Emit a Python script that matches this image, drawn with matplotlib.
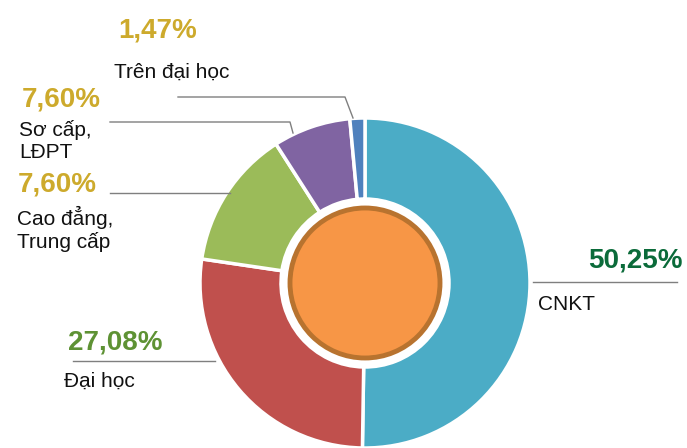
import matplotlib
matplotlib.use('Agg')

import matplotlib.pyplot as plt
from matplotlib.patches import Circle

# du lieu
categories = ['CNKT', 'Đại học', 'Cao đẳng,\nTrung cấp', 'Sơ cấp,\nLĐPT', 'Trên đại học']
values = [50.25, 27.08, 13.6, 7.60, 1.47]
pct_labels = ['50,25%', '27,08%', '7,60%', '7,60%', '1,47%']

colors = ['#4BACC6', '#C0504D', '#9BBB59', '#8064A2', '#4F81BD']
pct_colors = ['#0B6B3A', '#5E9234', '#CDAA2C', '#CDAA2C', '#CDAA2C']

W, H = 687, 448
fig = plt.figure(figsize=(W / 100, H / 100), dpi=100)
ax = fig.add_axes([0, 0, 1, 1])

cx, cy, R = 365, 283, 165
# truc y dao nguoc -> counterclock=True de chay theo chieu kim dong ho tren anh
ax.pie(values, colors=colors, startangle=-90, counterclock=True,
       center=(cx, cy), radius=R, frame=True,
       wedgeprops=dict(width=R - 84, edgecolor='white', linewidth=2.5))
ax.set_xlim(0, W)
ax.set_ylim(H, 0)
ax.set_aspect('equal')
ax.axis('off')

ax.add_patch(Circle((cx, cy), 75, facecolor='#F79646', edgecolor='#B8732F', linewidth=3.5, zorder=5))

# vi tri nhan: (x_pct, y_pct, x_name, y_name, duong dan)
layout = {
    'CNKT':         (588, 261, 538, 305, [(533, 282), (677, 282)]),
    'Đại học':      (68, 343, 64, 381, [(73, 361), (215, 361)]),
    'Cao đẳng,\nTrung cấp': (18, 184, 17, 229, [(110, 193), (230, 193)]),
    'Sơ cấp,\nLĐPT': (22, 99, 19, 141, [(110, 122), (290, 122), (293, 133)]),
    'Trên đại học': (118, 30, 114, 72, [(178, 97), (345, 97), (353, 118)]),
}

for cat, pct, pc in zip(categories, pct_labels, pct_colors):
    xp, yp, xn, yn, pts = layout[cat]
    ax.text(xp, yp, pct, color=pc, fontsize=20, fontweight='bold',
            family='Liberation Sans', va='center', ha='left')
    ax.text(xn, yn, cat, color='#111111', fontsize=15, family='Liberation Sans',
            va='center', ha='left', linespacing=1.2)
    xs = [p[0] for p in pts]
    ys = [p[1] for p in pts]
    ax.plot(xs, ys, color='#7F7F7F', linewidth=1)

fig.savefig('out.png', dpi=100)
plt.close()
